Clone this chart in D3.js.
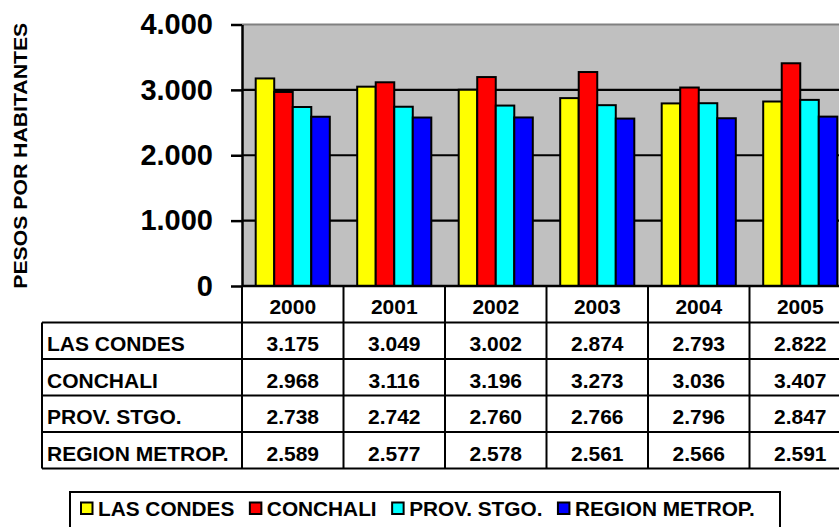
<!DOCTYPE html>
<html>
<head>
<meta charset="utf-8">
<script src="https://cdn.jsdelivr.net/npm/d3@7"></script>
<style>
  html, body { margin: 0; padding: 0; background: #ffffff; }
  svg { display: block; }
  text { font-family: Arial, "Liberation Sans", sans-serif; font-weight: bold; fill: #000; }
</style>
</head>
<body>
<svg id="chart" width="839" height="527"></svg>
<script>
// ---- data ----
const years = ["2000", "2001", "2002", "2003", "2004", "2005"];
const seriesNames = ["LAS CONDES", "CONCHALI", "PROV. STGO.", "REGION METROP."];
const lasCondes = [3175, 3049, 3002, 2874, 2793, 2822];
const conchali = [2968, 3116, 3196, 3273, 3036, 3407];
const provStgo = [2738, 2742, 2760, 2766, 2796, 2847];
const regionMetrop = [2589, 2577, 2578, 2561, 2566, 2591];
const seriesColors = ["#FFFF00", "#FF0000", "#00FFFF", "#0000FF"];
const yTicks = [0, 1000, 2000, 3000, 4000];
const yTitle = "PESOS POR HABITANTES";

const seriesValues = [lasCondes, conchali, provStgo, regionMetrop];

// ---- layout ----
const svg = d3.select("#chart");
const plotLeft = 242, step = 101.5;
const plotRight = plotLeft + step * years.length;
const plotTop = 24.5, plotBottom = 286;
const rowH = 36.5;
const tableLeft = 42;

const locale = d3.formatLocale({decimal: ",", thousands: ".", grouping: [3], currency: ["$", ""]});
const fmt = locale.format(",d");

const x0 = d3.scaleBand().domain(years).range([plotLeft, plotRight]).paddingInner(0.27).paddingOuter(0.135);
const x1 = d3.scaleBand().domain(seriesNames).range([0, x0.bandwidth()]);
const xCol = d3.scaleBand().domain(years).range([plotLeft, plotRight]);
const y = d3.scaleLinear().domain([0, 4000]).range([plotBottom, plotTop]);
const rowScale = d3.scaleBand().domain(["header"].concat(seriesNames)).range([plotBottom, plotBottom + rowH * 5]);

// plot background
svg.append("rect").attr("x", plotLeft).attr("y", plotTop)
  .attr("width", plotRight - plotLeft).attr("height", plotBottom - plotTop)
  .attr("fill", "#C0C0C0");

// gridlines
svg.append("g").selectAll("line").data(yTicks.filter(t => t > 0 && t < 4000)).join("line")
  .attr("x1", plotLeft).attr("x2", plotRight)
  .attr("y1", d => y(d)).attr("y2", d => y(d))
  .attr("stroke", "#000").attr("stroke-width", 2.2);
// top border
svg.append("line").attr("x1", plotLeft).attr("x2", plotRight)
  .attr("y1", y(4000)).attr("y2", y(4000))
  .attr("stroke", "#808080").attr("stroke-width", 2);

// bars
const gBars = svg.append("g");
years.forEach((yr, i) => {
  seriesNames.forEach((nm, j) => {
    const v = seriesValues[j][i];
    gBars.append("rect")
      .attr("x", x0(yr) + x1(nm))
      .attr("y", y(v))
      .attr("width", x1.bandwidth())
      .attr("height", plotBottom - y(v))
      .attr("fill", seriesColors[j])
      .attr("stroke", "#000").attr("stroke-width", 2);
  });
});

// y axis
const yAxis = d3.axisLeft(y).tickValues(yTicks).tickFormat(fmt).tickSize(11).tickSizeOuter(0).tickPadding(18);
const gy = svg.append("g").attr("transform", `translate(${plotLeft},0)`).call(yAxis);
gy.select(".domain").attr("stroke", "#000").attr("stroke-width", 2.5);
gy.selectAll(".tick line").attr("stroke", "#000").attr("stroke-width", 2.5);
gy.selectAll(".tick text").attr("font-size", 29).attr("font-weight", "bold")
  .attr("font-family", "Arial, 'Liberation Sans', sans-serif").attr("fill", "#000");

// y title
svg.append("text")
  .attr("transform", `translate(27,${(plotTop + plotBottom) / 2 + 0.5}) rotate(-90)`)
  .attr("text-anchor", "middle")
  .attr("font-size", 19)
  .attr("textLength", 266).attr("lengthAdjust", "spacingAndGlyphs")
  .text(yTitle);

// ---- data table ----
const gT = svg.append("g");
const tableBottom = plotBottom + rowH * 5;
// horizontal lines
gT.append("line").attr("x1", plotLeft).attr("x2", plotRight).attr("y1", plotBottom).attr("y2", plotBottom)
  .attr("stroke", "#000").attr("stroke-width", 2.5);
seriesNames.forEach(nm => {
  gT.append("line").attr("x1", tableLeft).attr("x2", plotRight)
    .attr("y1", rowScale(nm)).attr("y2", rowScale(nm)).attr("stroke", "#000").attr("stroke-width", 2);
});
gT.append("line").attr("x1", tableLeft).attr("x2", plotRight).attr("y1", tableBottom).attr("y2", tableBottom)
  .attr("stroke", "#000").attr("stroke-width", 2);
// vertical lines
gT.append("line").attr("x1", tableLeft).attr("x2", tableLeft).attr("y1", rowScale(seriesNames[0])).attr("y2", tableBottom)
  .attr("stroke", "#000").attr("stroke-width", 2);
years.forEach(yr => {
  gT.append("line").attr("x1", xCol(yr)).attr("x2", xCol(yr)).attr("y1", plotBottom).attr("y2", tableBottom)
    .attr("stroke", "#000").attr("stroke-width", 2);
});
gT.append("line").attr("x1", plotRight).attr("x2", plotRight).attr("y1", plotBottom).attr("y2", tableBottom)
  .attr("stroke", "#000").attr("stroke-width", 2);
// header
years.forEach(yr => {
  gT.append("text").attr("x", xCol(yr) + xCol.bandwidth() / 2).attr("y", rowScale("header") + 27.5)
    .attr("text-anchor", "middle").attr("font-size", 21).text(yr);
});
// rows
seriesNames.forEach((nm, j) => {
  gT.append("text").attr("x", tableLeft + 5).attr("y", rowScale(nm) + 28.5)
    .attr("font-size", 21).text(nm);
  years.forEach((yr, i) => {
    gT.append("text").attr("x", xCol(yr) + xCol.bandwidth() / 2).attr("y", rowScale(nm) + 28.5)
      .attr("text-anchor", "middle").attr("font-size", 21).text(fmt(seriesValues[j][i]));
  });
});

// ---- legend ----
const gL = svg.append("g");
gL.append("rect").attr("x", 70).attr("y", 492).attr("width", 710).attr("height", 44)
  .attr("fill", "#fff").attr("stroke", "#000").attr("stroke-width", 2);
let lx = 80;
seriesNames.forEach((nm, j) => {
  gL.append("rect").attr("x", lx + 1).attr("y", 502.5).attr("width", 11.5).attr("height", 11.5)
    .attr("fill", seriesColors[j]).attr("stroke", "#000").attr("stroke-width", 2);
  const t = gL.append("text").attr("x", lx + 18).attr("y", 515.5).attr("font-size", 20.8).text(nm);
  const w = t.node().getComputedTextLength();
  lx = lx + 18 + w + 14.5;
});
</script>
</body>
</html>
